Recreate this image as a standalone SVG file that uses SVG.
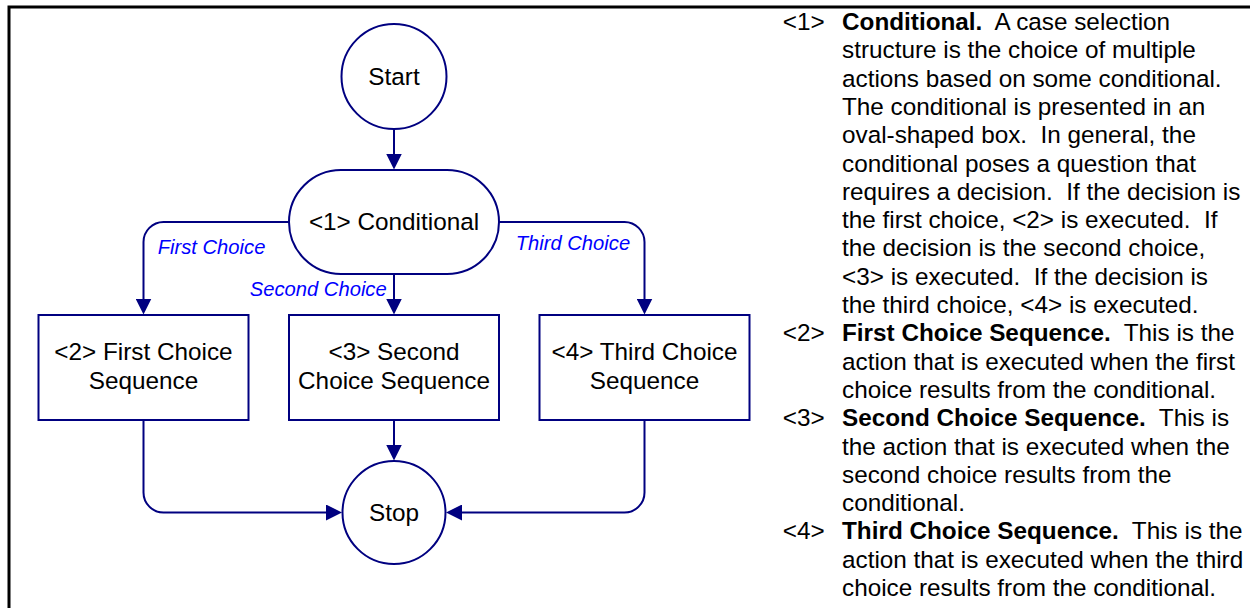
<svg xmlns="http://www.w3.org/2000/svg" width="1250" height="608" viewBox="0 0 1250 608">
<style>
.node{fill:#ffffff;stroke:#000080;stroke-width:2}
.conn{fill:none;stroke:#000080;stroke-width:2;marker-end:url(#arrow)}
.t{font-family:"Liberation Sans",Arial,sans-serif;font-size:24.3px;fill:#000000;white-space:pre}
.c{text-anchor:middle}
.lbl{font-family:"Liberation Sans",Arial,sans-serif;font-size:20.2px;font-style:italic;fill:#0000ff}
.b{font-weight:bold}
</style>
<defs>
<marker id="arrow" markerUnits="userSpaceOnUse" viewBox="0 -8 16 16" markerWidth="16" markerHeight="16" refX="0.5" refY="0" orient="auto">
<path d="M0,-8 L16,0 L0,8 Z" fill="#000080"/>
</marker>
</defs>
<rect width="1250" height="608" fill="#ffffff"/>
<path id="frame" d="M9,608 V7 H1250" fill="none" stroke="#000000" stroke-width="3"/>

<g id="connectors">
<path class="conn" d="M394,129 V154"/>
<path class="conn" d="M289,222 H163.5 A20,20 0 0 0 143.5,242 V299"/>
<path class="conn" d="M394,274 V299"/>
<path class="conn" d="M499,222 H624.5 A20,20 0 0 1 644.5,242 V299"/>
<path class="conn" d="M143.5,420 V492.5 A20,20 0 0 0 163.5,512.5 H326.5"/>
<path class="conn" d="M394,420 V445"/>
<path class="conn" d="M644.5,420 V492.5 A20,20 0 0 1 624.5,512.5 H461.5"/>
<text class="lbl" x="157.7" y="254.3">First Choice</text>
<text class="lbl" x="386.7" y="296" text-anchor="end">Second Choice</text>
<text class="lbl" x="515.7" y="250">Third Choice</text>
</g>

<g id="start">
<circle class="node" cx="394" cy="76.5" r="52.5"/>
<text class="t c" x="394" y="84.5">Start</text>
</g>
<g id="conditional">
<rect class="node" x="289" y="170" width="210" height="104" rx="52" ry="52"/>
<text class="t c" x="394" y="229.5">&lt;1&gt; Conditional</text>
</g>
<g id="first-choice">
<rect class="node" x="38.5" y="315" width="210" height="105"/>
<text class="t c" x="143.5" y="360">&lt;2&gt; First Choice</text>
<text class="t c" x="143.5" y="388.5">Sequence</text>
</g>
<g id="second-choice">
<rect class="node" x="289" y="315" width="210" height="105"/>
<text class="t c" x="394" y="360">&lt;3&gt; Second</text>
<text class="t c" x="394" y="388.5">Choice Sequence</text>
</g>
<g id="third-choice">
<rect class="node" x="539.5" y="315" width="210" height="105"/>
<text class="t c" x="644.5" y="360">&lt;4&gt; Third Choice</text>
<text class="t c" x="644.5" y="388.5">Sequence</text>
</g>
<g id="stop">
<circle class="node" cx="394" cy="512.5" r="51.5"/>
<text class="t c" x="394" y="520.5">Stop</text>
</g>

<g id="description">
<text class="t" x="782.7" y="30">&lt;1&gt;</text>
<text class="t" x="842" y="30"><tspan class="b">Conditional.</tspan>  A case selection</text>
<text class="t" x="842" y="58.3">structure is the choice of multiple</text>
<text class="t" x="842" y="86.6">actions based on some conditional.</text>
<text class="t" x="842" y="114.9">The conditional is presented in an</text>
<text class="t" x="842" y="143.2">oval-shaped box.  In general, the</text>
<text class="t" x="842" y="171.5">conditional poses a question that</text>
<text class="t" x="842" y="199.8">requires a decision.  If the decision is</text>
<text class="t" x="842" y="228.1">the first choice, &lt;2&gt; is executed.  If</text>
<text class="t" x="842" y="256.4">the decision is the second choice,</text>
<text class="t" x="842" y="284.7">&lt;3&gt; is executed.  If the decision is</text>
<text class="t" x="842" y="313">the third choice, &lt;4&gt; is executed.</text>
<text class="t" x="782.7" y="341.3">&lt;2&gt;</text>
<text class="t" x="842" y="341.3"><tspan class="b">First Choice Sequence.</tspan>  This is the</text>
<text class="t" x="842" y="369.6">action that is executed when the first</text>
<text class="t" x="842" y="397.9">choice results from the conditional.</text>
<text class="t" x="782.7" y="426.2">&lt;3&gt;</text>
<text class="t" x="842" y="426.2"><tspan class="b">Second Choice Sequence.</tspan>  This is</text>
<text class="t" x="842" y="454.5">the action that is executed when the</text>
<text class="t" x="842" y="482.8">second choice results from the</text>
<text class="t" x="842" y="511.1">conditional.</text>
<text class="t" x="782.7" y="539.4">&lt;4&gt;</text>
<text class="t" x="842" y="539.4"><tspan class="b">Third Choice Sequence.</tspan>  This is the</text>
<text class="t" x="842" y="567.7">action that is executed when the third</text>
<text class="t" x="842" y="596">choice results from the conditional.</text>
</g>
</svg>
